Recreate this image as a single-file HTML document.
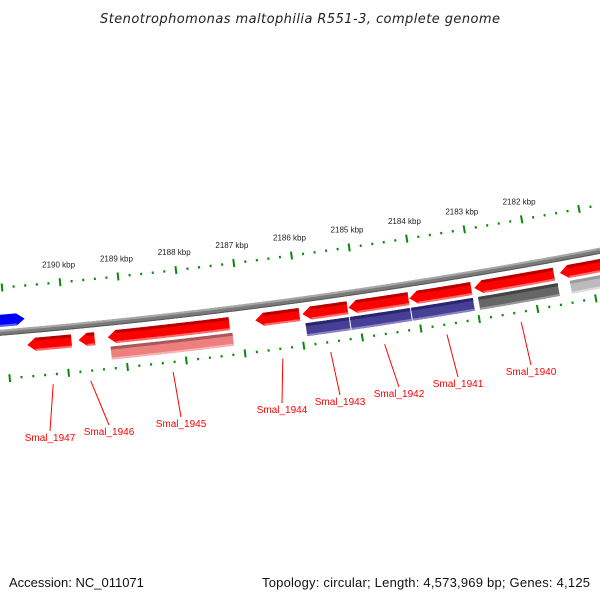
<!DOCTYPE html>
<html><head><meta charset="utf-8"><style>
html,body{margin:0;padding:0;background:#fff;}
svg{display:block;font-family:"Liberation Sans",sans-serif;}
</style></head><body>
<svg id="map" width="600" height="600" viewBox="0 0 600 600" xmlns="http://www.w3.org/2000/svg">
<text x="300" y="23" text-anchor="middle" font-size="13" font-style="italic" fill="#222" style="font-family:'DejaVu Sans',sans-serif" textLength="400">Stenotrophomonas maltophilia R551-3, complete genome</text>
<text x="9" y="587" font-size="13" fill="#111">Accession: NC_011071</text>
<text x="590" y="587" text-anchor="end" font-size="13" fill="#111" textLength="328">Topology: circular; Length: 4,573,969 bp; Genes: 4,125</text>
<g id="g"></g>
</svg>
<script>
// ---- data ----
const geneNames = ["Smal_1947","Smal_1946","Smal_1945","Smal_1944","Smal_1943","Smal_1942","Smal_1941","Smal_1940","Smal_1939"];
const geneStarts = [2189900,2189505,2187204,2186002,2185178,2184130,2183049,2181624,2179900];
const geneEnds   = [2190655,2189780,2189282,2186758,2185950,2185161,2184113,2182997,2181520];
const row2Starts = [2187170,2185178,2184130,2183049,2181590,2179900];
const row2Ends   = [2189250,2185920,2185161,2184113,2182960,2181380];
const row2Kinds  = ["pink","blue","blue","blue","gray","light"];
const fwdStarts = [2190660];
const fwdEnds = [2191400];
const tickKbp = [2190,2189,2188,2187,2186,2185,2184,2183,2182];
const labelX = [50,109,181,282,340,399,458,531];
const labelY = [441,435,427,413,405,397,387,375];

// ---- geometry ----
const CX=-483, CY=-5434, R0=5787, TH0=1.47608, K=1.0145e-5, BP0=2190000;
function th(bp){return TH0+(bp-BP0)*K;}
function P(bp,r){const t=th(bp);return [CX+r*Math.cos(t),CY+r*Math.sin(t)];}
function arcPts(b1,b2,r){const pts=[];const n=Math.max(2,Math.ceil(Math.abs(b2-b1)/50));for(let i=0;i<=n;i++){pts.push(P(b1+(b2-b1)*i/n,r));}return pts;}
function band(b1,b2,r1,r2){const a=arcPts(b1,b2,r1),b=arcPts(b2,b1,r2);return a.concat(b);}
function ptsStr(p){return p.map(q=>q[0].toFixed(2)+","+q[1].toFixed(2)).join(" ");}
const g=document.getElementById('g');
const NS="http://www.w3.org/2000/svg";
function poly(p,fill,name){const e=document.createElementNS(NS,'polygon');e.setAttribute('points',ptsStr(p));e.setAttribute('fill',fill);


g.appendChild(e);return e;}
const HEAD=140;

// backbone
poly(band(2178000,2192500,R0-3,R0+3),"#7a7a7a","backbone");
poly(band(2178000,2192500,R0-3,R0-1),"#a8a8a8","backbone-highlight");
poly(band(2178000,2192500,R0+2,R0+3),"#555","backbone-shadow");

// scales
function scale(rc,name){
  for(let bp=2178000;bp<=2192000;bp+=200){
    const major=(bp%1000===0);
    const h=major?4:1.2;
    const a=P(bp,rc-h),b=P(bp,rc+h);
    const l=document.createElementNS(NS,'line');
    l.setAttribute('x1',a[0]);l.setAttribute('y1',a[1]);l.setAttribute('x2',b[0]);l.setAttribute('y2',b[1]);
    l.setAttribute('stroke','#0a8a0a');l.setAttribute('stroke-width','2');
    
    
    g.appendChild(l);
  }
}
scale(R0-45,"outer-scale");
scale(R0+46,"inner-scale");
tickKbp.forEach(k=>{
  const p=P(k*1000,R0-60);
  const t=document.createElementNS(NS,'text');
  t.setAttribute('x',p[0]);t.setAttribute('y',p[1]);t.setAttribute('text-anchor','middle');
  t.setAttribute('font-size','8');t.setAttribute('fill','#222');
  t.textContent=k+" kbp";
  
  
  g.appendChild(t);
});

// reverse arrows (row 1), tip on larger-bp side
function revArrow(s,e,r1,r2,name){
  const rm=(r1+r2)/2;
  const tip=P(e,rm);
  const shape=[P(e-HEAD,r1)].concat(arcPts(e-HEAD,s,r1),arcPts(s,e-HEAD,r2),[P(e-HEAD,r2),tip]);
  poly(shape,"#ff0000",name);
  poly(band(e-HEAD,s,r1,r1+3),"#b80000",name+"-top-shade");
  poly(band(e-HEAD,s,r2-2,r2),"#ff6a6a",name+"-bottom-shade");
}
for(let i=0;i<geneNames.length;i++){revArrow(geneStarts[i],geneEnds[i],R0+8,R0+21,'gene-'+geneNames[i].toLowerCase().replace('_','-'));}

// forward arrow (blue), tip on smaller-bp side
for(let i=0;i<fwdStarts.length;i++){
  const s=fwdStarts[i],e=fwdEnds[i],r1=R0-18,r2=R0-6,rm=(r1+r2)/2;
  const shape=arcPts(s+HEAD,e,r1).concat(arcPts(e,s+HEAD,r2),[P(s,rm)]);
  poly(shape,"#0000ff","forward-gene-"+i);
  poly(band(s+HEAD,e,r2-2,r2),"#5060ff","forward-gene-shade-"+i);
}

// row 2
const kindCol={pink:["#ee7f7f","#a85a5a","#f8b4b4"],blue:["#473f95","#2b2570","#8a83c4"],gray:["#666","#444","#999"],light:["#bbb","#999","#ddd"]};
for(let i=0;i<row2Starts.length;i++){
  const c=kindCol[row2Kinds[i]];
  poly(band(row2Starts[i],row2Ends[i],R0+24,R0+37),c[0],'feature-row2-'+i);
  poly(band(row2Starts[i],row2Ends[i],R0+24,R0+27),c[1],'feature-row2-top-'+i);
  poly(band(row2Starts[i],row2Ends[i],R0+35,R0+37),c[2],'feature-row2-bottom-'+i);
}

// labels
for(let i=0;i<labelX.length;i++){
  const mid=(geneStarts[i]+geneEnds[i])/2;
  const a=P(mid,R0+56);
  const l=document.createElementNS(NS,'line');
  l.setAttribute('x1',a[0]);l.setAttribute('y1',a[1]);l.setAttribute('x2',labelX[i]);l.setAttribute('y2',labelY[i]-10);
  l.setAttribute('stroke','#ff0000');l.setAttribute('stroke-width','1');
  
  
  g.appendChild(l);
  const t=document.createElementNS(NS,'text');
  t.setAttribute('x',labelX[i]);t.setAttribute('y',labelY[i]);t.setAttribute('text-anchor','middle');
  t.setAttribute('font-size','10');t.setAttribute('fill','#ff0000');
  t.textContent=geneNames[i];
  
  
  g.appendChild(t);
}
</script>
</body></html>
